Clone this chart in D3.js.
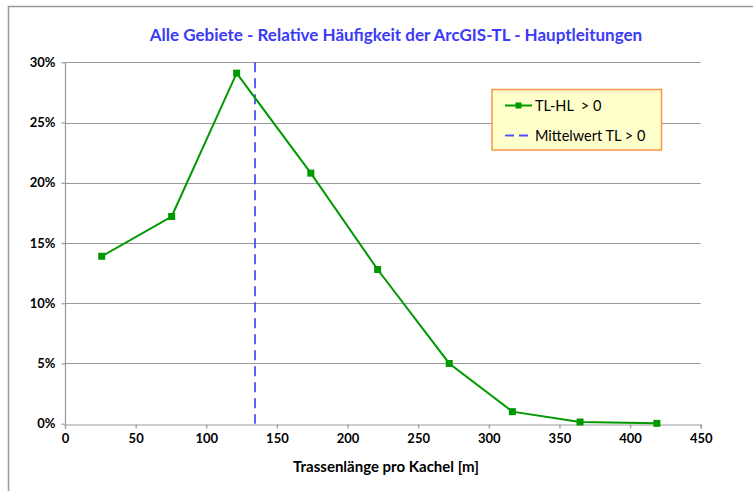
<!DOCTYPE html>
<html><head><meta charset="utf-8">
<script src="https://cdn.jsdelivr.net/npm/d3@7"></script>
<style>body{margin:0;background:#fff}svg{display:block}text{font-family:Lato,"Open Sans",sans-serif;white-space:pre}</style>
</head><body>
<script>
const title = "Alle Gebiete - Relative Häufigkeit der ArcGIS-TL - Hauptleitungen";
const xLabel = "Trassenlänge pro Kachel [m]";
const seriesName = "TL-HL  > 0";
const meanName = "Mittelwert TL > 0";
const xValues = [26, 75.5, 121.5, 174, 221.3, 272, 316.7, 364.6, 419];
const yValues = [0.139, 0.172, 0.291, 0.208, 0.128, 0.050, 0.010, 0.0014, 0.0003];
const meanValue = 134.5;
const xTicks = [0, 50, 100, 150, 200, 250, 300, 350, 400, 450];
const yTicks = [0, 0.05, 0.10, 0.15, 0.20, 0.25, 0.30];

const W = 753, H = 491;
const svg = d3.select("body").append("svg").attr("width", W).attr("height", H);
// outer frame
svg.append("rect").attr("x", 8.5).attr("y", 6.5).attr("width", 800).attr("height", 600)
  .attr("fill", "none").attr("stroke", "#999").attr("stroke-width", 1.5);

const x = d3.scaleLinear().domain([0, 450]).range([65, 700.7]);
const y = d3.scaleLinear().domain([0, 0.30]).range([423.7, 62.3]);

// gridlines
svg.append("g").selectAll("line").data(yTicks.filter(d => d > 0)).join("line")
  .attr("x1", x(0)).attr("x2", x(450)).attr("y1", d => Math.round(y(d)) + 0.5).attr("y2", d => Math.round(y(d)) + 0.5)
  .attr("stroke", "#999").attr("stroke-width", 1);

// axes
const xAxis = svg.append("g").attr("transform", `translate(0,${Math.round(y(0)) + 0.5})`)
  .call(d3.axisBottom(x).tickValues(xTicks).tickSize(4).tickPadding(5).tickFormat(d3.format("d")));
const yAxis = svg.append("g").attr("transform", `translate(${Math.round(x(0)) + 0.5},0)`)
  .call(d3.axisLeft(y).tickValues(yTicks).tickSize(4).tickPadding(6).tickFormat(d3.format(".0%")));
[xAxis, yAxis].forEach(a => {
  a.selectAll("path,line").attr("stroke", "#999").attr("stroke-width", 1.2);
  a.selectAll("text").attr("font-size", 13).attr("font-weight", "bold").attr("fill", "#000");
});
yAxis.select(".domain").attr("d", `M0,${y(0.3)}V${y(0)}`);

// mean line
svg.append("line").attr("x1", x(meanValue)).attr("x2", x(meanValue)).attr("y1", y(0.3)).attr("y2", y(0))
  .attr("stroke", "#4f4ff5").attr("stroke-width", 1.8).attr("stroke-dasharray", "10,6");

// series
const pts = xValues.map((v, i) => [v, yValues[i]]);
svg.append("path").datum(pts).attr("fill", "none").attr("stroke", "#009900").attr("stroke-width", 2)
  .attr("d", d3.line().x(d => x(d[0])).y(d => y(d[1])));
svg.append("g").selectAll("rect").data(pts).join("rect")
  .attr("x", d => x(d[0]) - 3.5).attr("y", d => y(d[1]) - 3.5).attr("width", 7).attr("height", 7)
  .attr("fill", "#009900");

// title
svg.append("text").attr("x", 396).attr("y", 41).attr("text-anchor", "middle")
  .attr("font-size", 17).attr("font-weight", "bold").attr("fill", "#3b3bf5").text(title);
// x label
svg.append("text").attr("x", 386).attr("y", 472).attr("text-anchor", "middle")
  .attr("font-size", 15).attr("font-weight", "bold").attr("fill", "#000").text(xLabel);

// legend
const lg = svg.append("g");
lg.append("rect").attr("x", 492).attr("y", 89.5).attr("width", 169.5).attr("height", 60.5)
  .attr("fill", "#ffffcc").attr("stroke", "#f79646").attr("stroke-width", 1.5);
lg.append("line").attr("x1", 505).attr("x2", 532).attr("y1", 105.5).attr("y2", 105.5)
  .attr("stroke", "#009900").attr("stroke-width", 2);
lg.append("rect").attr("x", 515.5).attr("y", 102.5).attr("width", 6).attr("height", 6).attr("fill", "#009900");
lg.append("text").attr("x", 535).attr("y", 110.5).attr("font-size", 14.5).attr("fill", "#000").text(seriesName);
lg.append("line").attr("x1", 505).attr("x2", 532).attr("y1", 135.5).attr("y2", 135.5)
  .attr("stroke", "#4f4ff5").attr("stroke-width", 1.8).attr("stroke-dasharray", "9,5");
lg.append("text").attr("x", 535).attr("y", 140.5).attr("font-size", 14.5).attr("fill", "#000").text(meanName);
</script>
</body></html>
